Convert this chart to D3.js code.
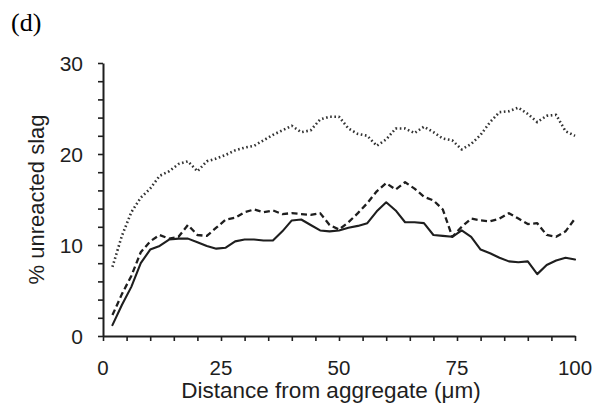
<!DOCTYPE html>
<html>
<head>
<meta charset="utf-8">
<script src="https://cdn.jsdelivr.net/npm/d3@7"></script>
<style>
  html, body { margin: 0; padding: 0; background: #fff; }
  svg { display: block; }
</style>
</head>
<body>
<svg id="chart" width="606" height="414"></svg>
<script>
// Distance from aggregate (µm), sampled every 2 µm
const distance = d3.range(2, 101, 2);

// % unreacted slag for the three profiles
const dottedSeries = [
  7.6, 11.0, 13.6, 15.2, 16.2, 17.6, 18.1, 18.9, 19.2, 18.1,
  19.2, 19.5, 19.9, 20.4, 20.7, 20.9, 21.5, 22.1, 22.6, 23.1,
  22.4, 22.6, 23.8, 24.1, 24.1, 22.8, 22.2, 22.0, 20.9, 21.6,
  22.8, 22.8, 22.3, 23.0, 22.4, 21.7, 21.5, 20.5, 21.1, 22.1,
  23.5, 24.6, 24.7, 25.1, 24.4, 23.5, 24.2, 24.3, 22.5, 22.0
];
const dashedSeries = [
  2.3, 4.6, 6.6, 9.2, 10.4, 11.1, 10.7, 10.9, 12.2, 11.1,
  11.0, 11.9, 12.8, 13.0, 13.6, 13.9, 13.6, 13.8, 13.4, 13.5,
  13.4, 13.3, 13.5, 12.2, 11.7, 12.5, 13.5, 14.6, 15.9, 16.8,
  16.1, 16.9, 16.2, 15.3, 14.9, 13.9, 10.9, 12.0, 12.9, 12.7,
  12.6, 12.9, 13.5, 12.9, 12.3, 12.4, 11.1, 10.9, 11.5, 12.9
];
const solidSeries = [
  1.2, 3.4, 5.4, 8.0, 9.5, 9.9, 10.6, 10.7, 10.7, 10.3,
  9.9, 9.6, 9.7, 10.4, 10.6, 10.6, 10.5, 10.5, 11.5, 12.7,
  12.8, 12.2, 11.6, 11.5, 11.6, 11.9, 12.1, 12.4, 13.7, 14.7,
  13.8, 12.5, 12.5, 12.4, 11.1, 11.0, 10.9, 11.6, 10.9, 9.5,
  9.1, 8.6, 8.2, 8.1, 8.2, 6.8, 7.8, 8.3, 8.6, 8.4
];

// Axis ticks and labels
const xMajorTicks = [0, 25, 50, 75, 100];
const xMinorTicks = d3.range(0, 101, 5);
const yMajorTicks = [0, 10, 20, 30];
const yMinorTicks = d3.range(0, 31, 2);
const panelLabel = "(d)";
const xTitle = "Distance from aggregate (\u03bcm)";
const yTitle = "% unreacted slag";

const ink = "#1e1e1e";
const sans = "Liberation Sans, Arial, sans-serif";
const svg = d3.select("#chart");

const x = d3.scaleLinear().domain([0, 100]).range([103, 575]);
const y = d3.scaleLinear().domain([0, 30]).range([336, 63]);

// X axis: minor ticks every 5, labels on the quarter marks
const gx = svg.append("g").attr("transform", `translate(0,${y(0)})`);
gx.call(d3.axisBottom(x).tickValues(xMinorTicks).tickSizeInner(5).tickSizeOuter(0).tickFormat(""));
gx.select(".domain").attr("stroke", ink).attr("stroke-width", 2);
gx.selectAll(".tick line").attr("stroke", ink).attr("stroke-width", 1.6);
svg.append("g").selectAll("text")
  .data(xMajorTicks).join("text")
  .attr("x", d => x(d))
  .attr("y", 375)
  .attr("text-anchor", "middle")
  .attr("font-family", sans)
  .attr("font-size", 20.5)
  .attr("fill", ink)
  .text(d => d);

// Y axis: minor ticks every 2 %, labels every 10 %
const gy = svg.append("g").attr("transform", `translate(${x(0)},0)`);
gy.call(d3.axisLeft(y).tickValues(yMinorTicks).tickSizeInner(5).tickSizeOuter(0).tickFormat(""));
gy.select(".domain").attr("stroke", ink).attr("stroke-width", 2);
gy.selectAll(".tick line").attr("stroke", ink).attr("stroke-width", 1.6);
svg.append("g").selectAll("text")
  .data(yMajorTicks).join("text")
  .attr("x", 83)
  .attr("y", d => y(d) + 7.5)
  .attr("text-anchor", "end")
  .attr("font-family", sans)
  .attr("font-size", 21)
  .attr("fill", ink)
  .text(d => d);

// Titles
svg.append("text")
  .attr("x", (x(0) + x(100)) / 2 - 8)
  .attr("y", 398)
  .attr("text-anchor", "middle")
  .attr("font-family", sans)
  .attr("font-size", 22.5)
  .attr("fill", ink)
  .text(xTitle);

svg.append("text")
  .attr("transform", `translate(44,${(y(0) + y(30)) / 2}) rotate(-90)`)
  .attr("text-anchor", "middle")
  .attr("font-family", sans)
  .attr("font-size", 22)
  .attr("fill", ink)
  .text(yTitle);

svg.append("text")
  .attr("x", 11)
  .attr("y", 31)
  .attr("font-family", "Liberation Serif, Times New Roman, serif")
  .attr("font-size", 26)
  .attr("fill", "#000")
  .text(panelLabel);

// Profiles
const line = d3.line()
  .x((d, i) => x(distance[i]))
  .y(d => y(d));

const profiles = [
  { values: dottedSeries, dash: "1.6,2.6", width: 2.6, cap: "butt", color: "#333" },
  { values: dashedSeries, dash: "6,3.5", width: 2.3, cap: "butt", color: ink },
  { values: solidSeries, dash: null, width: 2.1, cap: "round", color: ink }
];

svg.append("g").selectAll("path")
  .data(profiles).join("path")
  .attr("d", p => line(p.values))
  .attr("fill", "none")
  .attr("stroke", p => p.color)
  .attr("stroke-width", p => p.width)
  .attr("stroke-linejoin", "round")
  .attr("stroke-linecap", p => p.cap)
  .attr("stroke-dasharray", p => p.dash);
</script>
</body>
</html>
